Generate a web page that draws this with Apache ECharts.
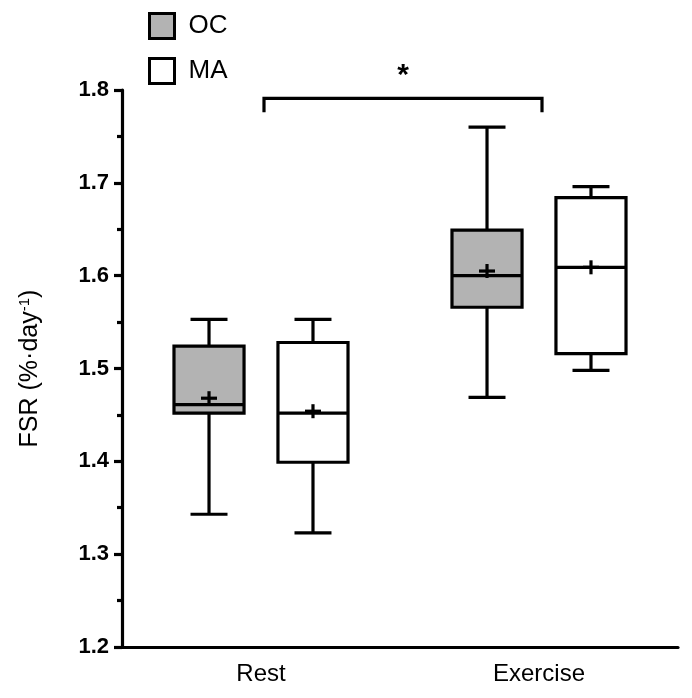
<!DOCTYPE html>
<html>
<head>
<meta charset="utf-8">
<script src="https://cdn.jsdelivr.net/npm/echarts@6/dist/echarts.min.js"></script>
<style>html,body{margin:0;padding:0;background:#fff;}#c{width:692px;height:698px;}</style>
</head>
<body>
<div id="c"></div>
<script>
// Categories and tick values
const categories = ['Rest', 'Exercise'];
const yTicks = [1.2, 1.3, 1.4, 1.5, 1.6, 1.7, 1.8];
// Box stats: [categoryIndex, min, q1, median, q3, max, mean]
const ocStats = [
  [0, 1.343, 1.452, 1.461, 1.524, 1.553, 1.468],
  [1, 1.469, 1.566, 1.600, 1.649, 1.760, 1.605]
];
const maStats = [
  [0, 1.323, 1.399, 1.452, 1.528, 1.553, 1.454],
  [1, 1.498, 1.516, 1.609, 1.684, 1.696, 1.609]
];
// Significance bracket (Rest vs Exercise)
const bracket = [[0, 1.791, 1.776], [1, 1.791, 1.776]];
const sigLabel = '*';

const LW = 3.2;
function boxRenderer(offsetFrac, fill) {
  return function (params, api) {
    const cat = api.value(0);
    const band = api.size([1, 0])[0];
    const cx = api.coord([cat, 0])[0] + offsetFrac * band;
    const Y = i => api.coord([cat, api.value(i)])[1];
    const bw = band * 0.252, cw = band * 0.133;
    const yMin = Y(1), yQ1 = Y(2), yMed = Y(3), yQ3 = Y(4), yMax = Y(5), yMean = Y(6);
    const ls = { stroke: '#000', lineWidth: LW, fill: null };
    return {
      type: 'group',
      children: [
        { type: 'line', shape: { x1: cx, y1: yMax, x2: cx, y2: yQ3 }, style: ls },
        { type: 'line', shape: { x1: cx, y1: yMin, x2: cx, y2: yQ1 }, style: ls },
        { type: 'line', shape: { x1: cx - cw / 2, y1: yMax, x2: cx + cw / 2, y2: yMax }, style: ls },
        { type: 'line', shape: { x1: cx - cw / 2, y1: yMin, x2: cx + cw / 2, y2: yMin }, style: ls },
        { type: 'rect', shape: { x: cx - bw / 2, y: yQ3, width: bw, height: yQ1 - yQ3 }, style: { fill: fill, stroke: '#000', lineWidth: LW } },
        { type: 'line', shape: { x1: cx - bw / 2, y1: yMed, x2: cx + bw / 2, y2: yMed }, style: ls },
        { type: 'line', shape: { x1: cx - 8, y1: yMean, x2: cx + 8, y2: yMean }, style: ls },
        { type: 'line', shape: { x1: cx, y1: yMean - 7, x2: cx, y2: yMean + 7 }, style: ls }
      ]
    };
  };
}

const chart = echarts.init(document.getElementById('c'), null, { renderer: 'canvas' });
const font = 'Arial, "Liberation Sans", Helvetica, sans-serif';
chart.setOption({
  backgroundColor: '#fff',
  animation: false,
  textStyle: { fontFamily: font },
  grid: { left: 122, right: 14, top: 90, bottom: 51 },
  legend: {
    orient: 'vertical', left: 148, top: 12, padding: 0,
    itemWidth: 25, itemHeight: 25, itemGap: 17,
    textStyle: { fontSize: 26, color: '#000', fontFamily: font, padding: [0, 0, 0, 9] },
    data: [
      { name: 'OC', icon: 'rect', itemStyle: { color: '#b3b3b3', borderColor: '#000', borderWidth: 3 } },
      { name: 'MA', icon: 'rect', itemStyle: { color: '#fff', borderColor: '#000', borderWidth: 3 } }
    ]
  },
  xAxis: {
    type: 'category', data: categories,
    axisLine: { lineStyle: { color: '#000', width: LW } },
    axisTick: { alignWithLabel: true, length: 8, lineStyle: { color: '#000', width: LW } },
    axisLabel: { fontSize: 24, color: '#000', margin: 15, fontFamily: font },
    splitLine: { show: false }
  },
  yAxis: {
    type: 'value', min: yTicks[0], max: yTicks[yTicks.length - 1], interval: 0.1,
    name: 'FSR (%·day{sup|-1})', nameLocation: 'middle', nameGap: 78,
    nameTextStyle: {
      fontSize: 25, color: '#000', fontFamily: font,
      rich: { sup: { fontSize: 15, color: '#000', fontFamily: font, verticalAlign: 'top', padding: [0, 0, 12, 0] } }
    },
    axisLine: { show: true, lineStyle: { color: '#000', width: LW } },
    axisTick: { show: true, length: 8, lineStyle: { color: '#000', width: LW } },
    minorTick: { show: true, splitNumber: 2, length: 5, lineStyle: { color: '#000', width: LW } },
    axisLabel: { fontSize: 22, fontWeight: 'bold', color: '#000', margin: 13, fontFamily: font,
      formatter: v => v.toFixed(1) },
    splitLine: { show: false }
  },
  series: [
    {
      name: 'OC', type: 'custom', data: ocStats,
      encode: { x: 0, y: [1, 2, 3, 4, 5, 6] },
      itemStyle: { color: '#b3b3b3', borderColor: '#000' },
      renderItem: boxRenderer(-0.187, '#b3b3b3')
    },
    {
      name: 'MA', type: 'custom', data: maStats,
      encode: { x: 0, y: [1, 2, 3, 4, 5, 6] },
      itemStyle: { color: '#fff', borderColor: '#000' },
      renderItem: boxRenderer(0.187, '#fff')
    },
    {
      name: 'sig', type: 'custom', data: [0],
      renderItem: function (params, api) {
        const p0 = api.coord([bracket[0][0], bracket[0][1]]);
        const p0b = api.coord([bracket[0][0], bracket[0][2]]);
        const p1 = api.coord([bracket[1][0], bracket[1][1]]);
        const p1b = api.coord([bracket[1][0], bracket[1][2]]);
        const dx = 3;
        return {
          type: 'group',
          children: [
            { type: 'polyline', shape: { points: [[p0b[0] + dx, p0b[1]], [p0[0] + dx, p0[1]], [p1[0] + dx, p1[1]], [p1b[0] + dx, p1b[1]]] },
              style: { stroke: '#000', lineWidth: LW, fill: null } },
            { type: 'text', style: { text: sigLabel, x: (p0[0] + p1[0]) / 2 + dx, y: p0[1] - 8, align: 'center', verticalAlign: 'bottom',
              fontSize: 30, fontWeight: 'bold', fill: '#000', fontFamily: font } }
          ]
        };
      }
    }
  ]
});
</script>
</body>
</html>
